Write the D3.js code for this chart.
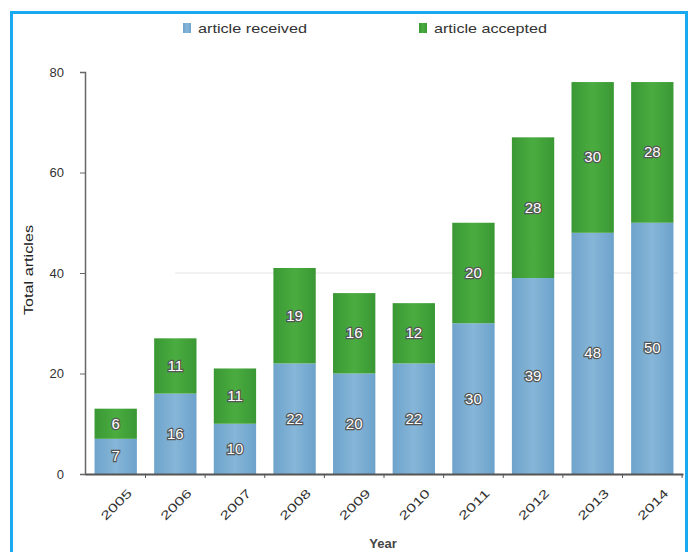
<!DOCTYPE html>
<html>
<head>
<meta charset="utf-8">
<script src="https://cdn.jsdelivr.net/npm/d3@7"></script>
<style>
  body { margin: 0; background: #fff; }
  text { font-family: "Liberation Sans", Arial, sans-serif; }
  .barLabel { fill: #fff; font-size: 15px; stroke: #555; stroke-width: 2.4px; paint-order: stroke; }
</style>
</head>
<body>
<div id="chart"></div>
<script>
// chart values
var years = ["2005", "2006", "2007", "2008", "2009", "2010", "2011", "2012", "2013", "2014"];
var received = [7, 16, 10, 22, 20, 22, 30, 39, 48, 50];
var accepted = [6, 11, 11, 19, 16, 12, 20, 28, 30, 28];
var yTicks = [0, 20, 40, 60, 80];
var seriesNames = ["article received", "article accepted"];

var svgWidth = 690;
var svgHeight = 552;
var margin = { top: 72, right: 7, bottom: 78, left: 85 };
var width = svgWidth - margin.left - margin.right;
var height = svgHeight - margin.top - margin.bottom;

var svg = d3.select("#chart")
    .append("svg")
    .attr("width", svgWidth)
    .attr("height", svgHeight);

// blue frame
svg.append("rect")
    .attr("x", 11.5).attr("y", 12.5)
    .attr("width", 675).attr("height", 560)
    .attr("fill", "#fff")
    .attr("stroke", "#19a9ef")
    .attr("stroke-width", 3);

var defs = svg.append("defs");
var gBlue = defs.append("linearGradient").attr("id", "gBlue");
gBlue.append("stop").attr("offset", "0%").attr("stop-color", "#6ea3cb");
gBlue.append("stop").attr("offset", "50%").attr("stop-color", "#86b6d8");
gBlue.append("stop").attr("offset", "100%").attr("stop-color", "#6ca2cb");
var gGreen = defs.append("linearGradient").attr("id", "gGreen");
gGreen.append("stop").attr("offset", "0%").attr("stop-color", "#3a9834");
gGreen.append("stop").attr("offset", "50%").attr("stop-color", "#4aac40");
gGreen.append("stop").attr("offset", "100%").attr("stop-color", "#3a9834");

var chartGroup = svg.append("g")
    .attr("transform", `translate(${margin.left}, ${margin.top})`);

var x = d3.scaleBand()
    .domain(years)
    .range([0, width])
    .paddingInner(0.29)
    .paddingOuter(0.16);

var y = d3.scaleLinear()
    .domain([0, 80])
    .range([height, 0]);

// faint gridline at 40
chartGroup.append("line")
    .attr("x1", x("2006") + x.bandwidth() / 2).attr("x2", width - 5)
    .attr("y1", y(40)).attr("y2", y(40))
    .attr("stroke", "#e2e2e2");

var data = years.map((yr, i) => ({ year: yr, received: received[i], accepted: accepted[i] }));

// received (bottom)
chartGroup.selectAll(".recv")
    .data(data)
    .enter()
    .append("rect")
    .attr("x", d => x(d.year))
    .attr("y", d => y(d.received))
    .attr("width", x.bandwidth())
    .attr("height", d => y(0) - y(d.received))
    .attr("fill", "url(#gBlue)");

// accepted (stacked)
chartGroup.selectAll(".acc")
    .data(data)
    .enter()
    .append("rect")
    .attr("x", d => x(d.year))
    .attr("y", d => y(d.received + d.accepted))
    .attr("width", x.bandwidth())
    .attr("height", d => y(d.received) - y(d.received + d.accepted))
    .attr("fill", "url(#gGreen)");

// value labels
chartGroup.selectAll(".recvLabel")
    .data(data)
    .enter()
    .append("text")
    .attr("class", "barLabel")
    .attr("text-anchor", "middle")
    .attr("x", d => x(d.year) + x.bandwidth() / 2)
    .attr("y", d => y(d.received / 2) + 5)
    .text(d => d.received);

chartGroup.selectAll(".accLabel")
    .data(data)
    .enter()
    .append("text")
    .attr("class", "barLabel")
    .attr("text-anchor", "middle")
    .attr("x", d => x(d.year) + x.bandwidth() / 2)
    .attr("y", d => y(d.received + d.accepted / 2) + 5)
    .text(d => d.accepted);

// axes
var yAxis = chartGroup.append("g")
    .call(d3.axisLeft(y).tickValues(yTicks).tickSize(5).tickPadding(16));
yAxis.select(".domain").attr("stroke", "#666").attr("stroke-width", 1.5);
yAxis.selectAll(".tick line").attr("stroke", "#666");
yAxis.selectAll("text").attr("font-size", 13).attr("fill", "#333");

var xAxis = chartGroup.append("g")
    .attr("transform", `translate(0, ${height})`)
    .call(d3.axisBottom(x).tickSize(0).tickPadding(10));
xAxis.select(".domain").attr("stroke", "#555").attr("stroke-width", 2);
xAxis.selectAll("text")
    .attr("font-size", 12)
    .attr("fill", "#333")
    .attr("text-anchor", "end")
    .attr("dy", "0.35em")
    .attr("textLength", 38)
    .attr("lengthAdjust", "spacingAndGlyphs")
    .attr("transform", "translate(7,10) rotate(-45)");

// small ticks between bands
var step = x.step();
var bounds = d3.range(1, years.length + 1).map(i => x(years[i - 1]) + x.bandwidth() + (step - x.bandwidth()) / 2);
xAxis.selectAll(".sep")
    .data(bounds)
    .enter()
    .append("line")
    .attr("x1", d => d).attr("x2", d => d)
    .attr("y1", 0).attr("y2", 4)
    .attr("stroke", "#555");

// axis titles
svg.append("text")
    .attr("transform", `translate(33, ${margin.top + height / 2 - 3}) rotate(-90)`)
    .attr("text-anchor", "middle")
    .attr("font-size", 13)
    .attr("textLength", 90)
    .attr("lengthAdjust", "spacingAndGlyphs")
    .attr("fill", "#222")
    .text("Total articles");

svg.append("text")
    .attr("x", 383)
    .attr("y", 548)
    .attr("text-anchor", "middle")
    .attr("font-size", 13)
    .attr("font-weight", "bold")
    .attr("fill", "#444")
    .text("Year");

// legend
var legendX = [183, 419];
var legendFill = ["url(#gBlue)", "url(#gGreen)"];
var legend = svg.selectAll(".legend")
    .data(seriesNames)
    .enter()
    .append("g")
    .attr("transform", (d, i) => `translate(${legendX[i]}, 28)`);
legend.append("rect")
    .attr("x", 0).attr("y", -5)
    .attr("width", 8).attr("height", 10)
    .attr("fill", (d, i) => legendFill[i]);
legend.append("text")
    .attr("x", 15).attr("y", 4.5)
    .attr("font-size", 13)
    .attr("textLength", (d, i) => i === 0 ? 109 : 113)
    .attr("lengthAdjust", "spacingAndGlyphs")
    .attr("fill", "#333")
    .text(d => d);
</script>
</body>
</html>
